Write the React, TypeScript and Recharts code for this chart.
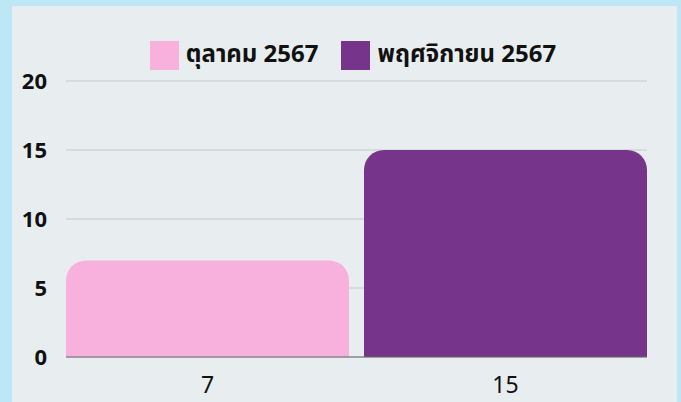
import { BarChart, Bar, CartesianGrid, XAxis, YAxis, Legend, LabelList } from "recharts";

const seriesNames = ["ตุลาคม 2567", "พฤศจิกายน 2567"];
const seriesValues = [7, 15];
const seriesColors = ["#f8b0dc", "#76348a"];
const yTicks = [0, 5, 10, 15, 20];

const data = [{ name: "", s0: seriesValues[0], s1: seriesValues[1] }];

const FONT = "'Noto Sans Thai', 'Noto Sans', sans-serif";

const LegendContent = () => (
  <div style={{ height: 51, display: "flex", justifyContent: "center", alignItems: "flex-start", paddingTop: 7, paddingLeft: 59, boxSizing: "border-box", fontFamily: FONT }}>
    {seriesNames.map((n, i) => (
      <div key={n} style={{ display: "flex", alignItems: "center", marginRight: i === 0 ? 23 : 0 }}>
        <div style={{ width: 29, height: 29, background: seriesColors[i], marginRight: 7 }} />
        <span style={{ fontSize: 24, fontWeight: 700, color: "#111" }}>{n}</span>
      </div>
    ))}
  </div>
);

const ValueBelow = (props: any) => {
  const { x, y, width, height, value } = props;
  return (
    <text x={x + width / 2} y={y + height + 36} textAnchor="middle" fontSize={23} fill="#111" fontFamily={FONT}>
      {value}
    </text>
  );
};

export default function App() {
  return (
    <div style={{ position: "fixed", left: 0, top: 0, width: 681, height: 402, background: "#bee7f5" }}>
      <div style={{ position: "absolute", left: 12, top: 6, width: 665, height: 396, background: "#e8eeef" }} />
      <div style={{ position: "absolute", left: 0, top: 0 }}>
        <BarChart width={681} height={402} data={data} margin={{ top: 30, right: 34, left: 0, bottom: 44 }} barCategoryGap={0} barGap={15}>
          <CartesianGrid vertical={false} stroke="#c4c8c9" />
          <XAxis dataKey="name" tick={false} tickLine={false} height={1} axisLine={{ stroke: "#666" }} />
          <YAxis
            domain={[0, 20]}
            ticks={yTicks}
            width={66}
            axisLine={false}
            tickLine={false}
            tickSize={0}
            tickMargin={19}
            tick={{ fontSize: 22, fontWeight: 700, fill: "#111", fontFamily: FONT }}
          />
          <Legend verticalAlign="top" content={<LegendContent />} />
          {seriesNames.map((n, i) => (
            <Bar key={n} dataKey={"s" + i} name={n} fill={seriesColors[i]} radius={[20, 20, 0, 0]} isAnimationActive={false}>
              <LabelList dataKey={"s" + i} content={<ValueBelow />} />
            </Bar>
          ))}
        </BarChart>
      </div>
    </div>
  );
}
